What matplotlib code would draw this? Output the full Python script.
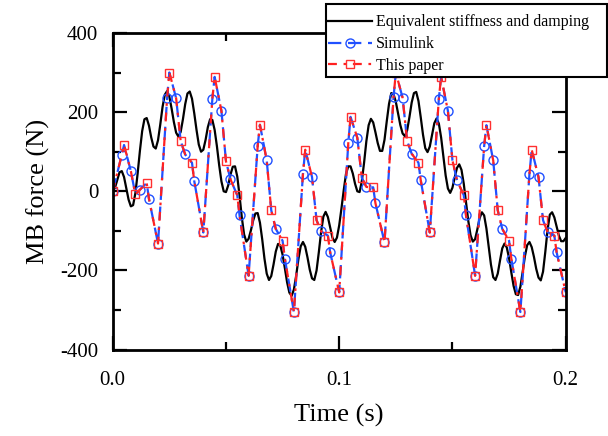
import numpy as np
import matplotlib
matplotlib.use("Agg")
import matplotlib.pyplot as plt
from matplotlib.patches import Rectangle

plt.rcParams["font.family"] = ["Liberation Serif", "DejaVu Serif"]
plt.rcParams["axes.unicode_minus"] = False

# black curve: equivalent stiffness and damping, read every 1 ms
t_eq = np.linspace(0, 0.2, 201)
f_eq = [
    0, 9, 29, 48, 51, 36, 8, -21, -38, -35,
    -5, 45, 102, 152, 182, 185, 166, 136, 113, 108,
    129, 169, 213, 244, 253, 239, 209, 175, 148, 138,
    150, 182, 220, 247, 252, 234, 197, 155, 118, 100,
    105, 130, 162, 182, 180, 155, 114, 66, 25, 0,
    -2, 15, 42, 62, 63, 37, -11, -66, -109, -127,
    -120, -99, -74, -56, -55, -79, -121, -170, -208, -224,
    -214, -185, -152, -133, -137, -160, -194, -230, -256, -264,
    -248, -213, -171, -139, -128, -140, -167, -198, -220, -224,
    -200, -154, -103, -64, -52, -65, -91, -117, -128, -117,
    -86, -43, 3, 44, 63, 63, 45, 19, 0, -2,
    26, 73, 127, 167, 183, 174, 149, 122, 102, 102,
    130, 177, 221, 248, 245, 226, 197, 167, 146, 139,
    154, 187, 224, 248, 251, 228, 187, 143, 109, 99,
    113, 143, 172, 184, 171, 136, 88, 40, 7, -4,
    9, 35, 59, 68, 54, 19, -28, -75, -111, -127,
    -121, -96, -68, -53, -61, -94, -139, -185, -217, -224,
    -208, -175, -144, -132, -142, -169, -205, -239, -260, -262,
    -241, -204, -164, -136, -128, -141, -166, -196, -218, -225,
    -203, -153, -97, -59, -53, -66, -89, -112, -126, -126,
    -118,
]

# sampled series (Simulink every 4 ms, this paper every 5 ms), shared vertices
t_ms = [0, 4, 5, 8, 10, 12, 15, 16, 20, 24, 25, 28, 30, 32, 35, 36, 40,
        44, 45, 48, 50, 52, 55, 56, 60, 64, 65, 68, 70, 72, 75, 76, 80,
        84, 85, 88, 90, 92, 95, 96, 100, 104, 105, 108, 110, 112, 115, 116, 120,
        124, 125, 128, 130, 132, 135, 136, 140, 144, 145, 148, 150, 152, 155, 156, 160,
        164, 165, 168, 170, 172, 175, 176, 180, 184, 185, 188, 190, 192, 195, 196, 200]
f_s = [0, 92, 117, 51, -8, 4, 21, -19, -132, 235, 300, 235, 127, 93, 72, 26, -104,
       234, 289, 203, 76, 30, -10, -61, -213, 114, 168, 78, -48, -95, -125, -170, -305,
       44, 105, 36, -73, -101, -112, -154, -255, 121, 188, 135, 34, 11, 10, -30, -129,
       238, 300, 236, 127, 95, 72, 28, -104, 234, 289, 203, 78, 28, -10, -61, -213,
       114, 167, 78, -48, -95, -125, -170, -305, 44, 105, 36, -73, -103, -112, -154, -255]

t_s = np.array(t_ms) / 1000.0
idx_sim = [i for i, v in enumerate(t_ms) if v % 4 == 0]
idx_pap = [i for i, v in enumerate(t_ms) if v % 5 == 0]

W, H = 608, 436
fig = plt.figure(figsize=(W / 100, H / 100), dpi=100)
ax = fig.add_axes([0.1854, 0.198, 0.745, 0.7265])

ax.plot(t_eq, f_eq, color="black", lw=1.6, label="Equivalent stiffness and damping")
ax.plot(t_s, f_s, color="#2050ff", lw=1.6, dashes=(6, 3), marker="o", ms=6.5,
        mfc="none", mec="#2050ff", mew=1.0, markevery=idx_sim, label="Simulink")
ax.plot(t_s, f_s, color="#ff2020", lw=1.6, dashes=(4, 3, 1.2, 3), marker="s", ms=6,
        mfc="none", mec="#ff3030", mew=1.0, markevery=idx_pap, label="This paper")

ax.set_xlim(0, 0.2)
ax.set_ylim(-400, 400)
ax.set_xticks([0.0, 0.1, 0.2])
ax.set_xticklabels(["0.0", "0.1", "0.2"])
ax.set_yticks([-400, -200, 0, 200, 400])
ax.set_xticks([0.05, 0.15], minor=True)
ax.set_yticks([-300, -100, 100, 300], minor=True)
ax.tick_params(which="both", direction="in", top=True, right=True, width=1.6,
               labelsize=15)
ax.tick_params(axis="x", which="major", pad=15)
ax.tick_params(axis="y", which="major", pad=10.5)
ax.tick_params(which="major", length=10)
ax.tick_params(which="minor", length=6)
for s in ax.spines.values():
    s.set_linewidth(2)

ax.set_xlabel("Time (s)", fontsize=19)
ax.set_ylabel("MB force (N)", fontsize=19)
ax.xaxis.set_label_coords(0.5, -0.172)
ax.yaxis.set_label_coords(-0.138, 0.5)

# legend frame sits partly outside the axes, drawn over the curves
frame = Rectangle((326 / W, 1 - 77 / H), (607 - 326) / W, (77 - 4) / H,
                  transform=fig.transFigure, facecolor="white",
                  edgecolor="black", lw=1.5, zorder=4)
fig.add_artist(frame)
handles, labels = ax.get_legend_handles_labels()
leg = fig.legend(handles, labels, loc="upper left",
                 bbox_to_anchor=(328 / W, 1 - 14.5 / H), fontsize=11.5,
                 frameon=False, handlelength=2.75, handletextpad=0.25,
                 borderpad=0, labelspacing=0.36, borderaxespad=0, numpoints=1)
leg.set_zorder(5)

fig.savefig("out.png", dpi=100)
